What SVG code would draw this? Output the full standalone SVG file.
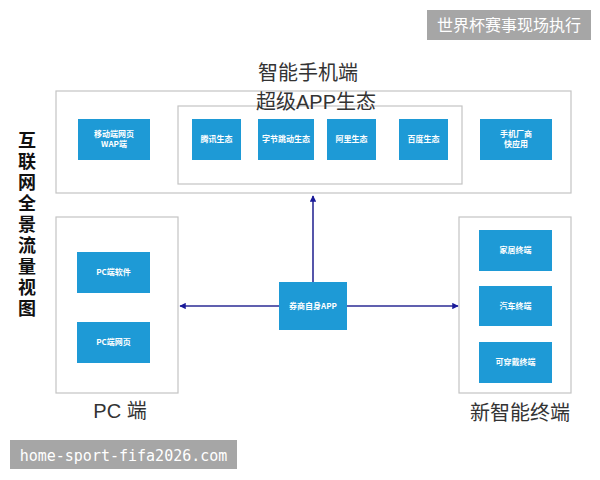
<svg xmlns="http://www.w3.org/2000/svg" width="600" height="480" viewBox="0 0 600 480">
<style>
.frame{fill:#fff;stroke:#c4c4c4;stroke-width:1.2}
.blue{fill:#1e9ad6}
.bt{font-family:"Noto Sans CJK SC","Liberation Sans",sans-serif;font-size:8px;font-weight:bold;fill:#fff;text-anchor:middle}
.big{font-family:"Liberation Sans","Noto Sans CJK SC",sans-serif;font-size:20px;fill:#333;text-anchor:middle}
.conn{stroke:#2b2b95;stroke-width:1.6;fill:none}
</style>
<defs>
<marker id="ah" viewBox="0 0 10 10" refX="9" refY="5" markerWidth="4" markerHeight="4" orient="auto" markerUnits="strokeWidth">
<path d="M0,0 L10,5 L0,10 z" fill="#1a1a9a"/>
</marker>
</defs>
<rect width="600" height="480" fill="#fff"/>

<g id="watermark-top">
<rect x="427" y="10" width="164" height="30" fill="#a6a6a6"/>
<text x="509" y="31" font-family="Noto Sans CJK SC,sans-serif" font-size="16" fill="#fff" text-anchor="middle">世界杯赛事现场执行</text>
</g>

<g id="side-title">
<text x="27" y="131" writing-mode="vertical-rl" font-family="Noto Sans CJK SC,sans-serif" font-size="18" font-weight="bold" letter-spacing="3" fill="#111">互联网全景流量视图</text>
</g>

<g id="smartphone">
<text class="big" x="308" y="80" font-family="Noto Sans CJK SC,sans-serif">智能手机端</text>
<rect class="frame" x="56" y="91" width="515" height="102"/>
</g>

<g id="super-app">
<rect class="frame" x="178" y="106" width="284" height="78"/>
<text class="big" x="316" y="109" font-family="Noto Sans CJK SC,sans-serif">超级APP生态</text>
</g>

<g id="wap">
<rect class="blue" x="78" y="119" width="72" height="41"/>
<text class="bt" x="114" y="137">移动端网页</text>
<text class="bt" x="114" y="147">WAP端</text>
</g>
<g id="tencent">
<rect class="blue" x="192" y="119" width="49" height="41"/>
<text class="bt" x="216.5" y="142">腾讯生态</text>
</g>
<g id="bytedance">
<rect class="blue" x="258" y="119" width="56" height="41"/>
<text class="bt" x="286" y="142">字节跳动生态</text>
</g>
<g id="alibaba">
<rect class="blue" x="327" y="119" width="49" height="41"/>
<text class="bt" x="351.5" y="142">阿里生态</text>
</g>
<g id="baidu">
<rect class="blue" x="399" y="119" width="49" height="41"/>
<text class="bt" x="423.5" y="142">百度生态</text>
</g>
<g id="quickapp">
<rect class="blue" x="480" y="119" width="72" height="41"/>
<text class="bt" x="516" y="137">手机厂商</text>
<text class="bt" x="516" y="147">快应用</text>
</g>

<g id="pc">
<rect class="frame" x="56" y="217" width="122" height="176"/>
<text class="big" x="120" y="418" font-family="Noto Sans CJK SC,sans-serif">PC 端</text>
</g>
<g id="pc-software">
<rect class="blue" x="77" y="252" width="73" height="41"/>
<text class="bt" x="113.5" y="275">PC端软件</text>
</g>
<g id="pc-web">
<rect class="blue" x="77" y="322" width="73" height="41"/>
<text class="bt" x="113.5" y="345">PC端网页</text>
</g>

<g id="new-terminal">
<rect class="frame" x="459" y="217" width="112" height="176"/>
<text class="big" x="520" y="420" font-family="Noto Sans CJK SC,sans-serif">新智能终端</text>
</g>
<g id="home">
<rect class="blue" x="479" y="230" width="73" height="41"/>
<text class="bt" x="515.5" y="253">家居终端</text>
</g>
<g id="car">
<rect class="blue" x="479" y="286" width="73" height="40"/>
<text class="bt" x="515.5" y="309">汽车终端</text>
</g>
<g id="wearable">
<rect class="blue" x="479" y="342" width="73" height="41"/>
<text class="bt" x="515.5" y="365">可穿戴终端</text>
</g>

<g id="connectors">
<line class="conn" x1="313" y1="282" x2="313" y2="196" marker-end="url(#ah)"/>
<line class="conn" x1="279" y1="306" x2="180" y2="306" marker-end="url(#ah)"/>
<line class="conn" x1="347" y1="306" x2="458" y2="306" marker-end="url(#ah)"/>
</g>

<g id="broker-app">
<rect class="blue" x="279" y="282" width="68" height="48"/>
<text class="bt" x="313" y="309">券商自身APP</text>
</g>

<g id="watermark-bottom">
<rect x="10" y="440" width="227" height="29" fill="#a6a6a6"/>
<text x="123.5" y="461" font-family="DejaVu Sans Mono,monospace" font-size="15" fill="#fff" text-anchor="middle">home-sport-fifa2026.com</text>
</g>
</svg>
